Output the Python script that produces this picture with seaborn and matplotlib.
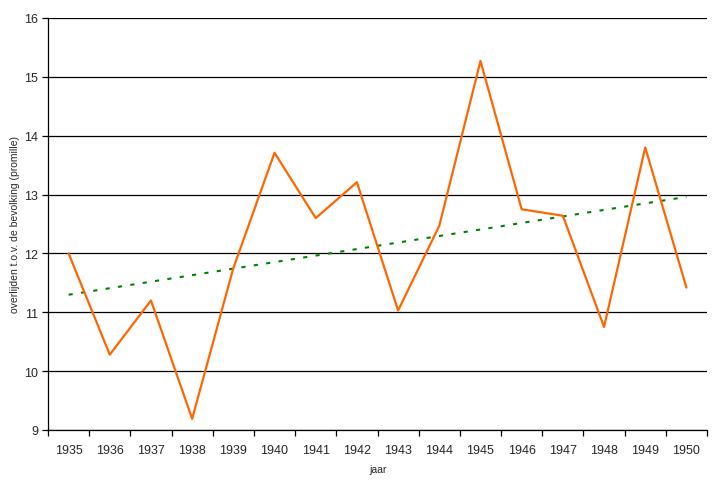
import numpy as np
import pandas as pd
import matplotlib
matplotlib.use("Agg")
import matplotlib.pyplot as plt
import seaborn as sns

years = [1935, 1936, 1937, 1938, 1939, 1940, 1941, 1942,
         1943, 1944, 1945, 1946, 1947, 1948, 1949, 1950]
deaths = [12.0, 10.28, 11.2, 9.19, 11.75, 13.71, 12.6, 13.21,
          11.03, 12.47, 15.27, 12.75, 12.64, 10.75, 13.8, 11.42]
y_ticks = [9, 10, 11, 12, 13, 14, 15, 16]

df = pd.DataFrame({"jaar": years, "waarde": deaths})

sns.set_style("white")
plt.rcParams["font.family"] = ["Liberation Sans", "DejaVu Sans"]

fig = plt.figure(figsize=(7.12, 4.81), dpi=100)
ax = fig.add_axes([0.0674, 0.104, 0.9256, 0.8565])

# horizontal gridlines
for v in y_ticks:
    ax.axhline(v, color="black", lw=0.9, zorder=1)

# linear trend (dotted green)
sns.regplot(data=df, x="jaar", y="waarde", ax=ax, scatter=False, ci=None,
            truncate=True,
            line_kws=dict(color="#008000", lw=1.5, linestyle=(0, (2, 4)), zorder=2))

# data line
sns.lineplot(data=df, x="jaar", y="waarde", ax=ax, color="#FF6600", lw=1.6, zorder=3)

ax.set_xlim(years[0] - 0.5, years[-1] + 0.5)
ax.set_ylim(9, 16)
ax.set_yticks(y_ticks)
ax.set_yticklabels([str(v) for v in y_ticks], fontsize=9)

# category labels at centers, tick marks at boundaries
ax.set_xticks(years)
ax.set_xticklabels([str(y) for y in years], fontsize=9)
ax.set_xticks([y - 0.5 for y in years] + [years[-1] + 0.5], minor=True)
ax.tick_params(axis="x", which="major", bottom=True, length=0, pad=10)
ax.tick_params(axis="x", which="minor", bottom=True, length=4, width=0.9,
               color="black", direction="out")
ax.tick_params(axis="y", which="major", left=True, length=4, width=0.9,
               color="black", direction="out", pad=3)

for s in ["top", "right"]:
    ax.spines[s].set_visible(False)
for s in ["left", "bottom"]:
    ax.spines[s].set_color("black")
    ax.spines[s].set_linewidth(0.9)

ax.set_xlabel("jaar", fontsize=7.5, labelpad=6)
ax.set_ylabel("overlijden t.o.v. de bevolking (promille)", fontsize=7.5)
ax.yaxis.set_label_coords(-0.0425, 0.5)

fig.savefig("out.png", dpi=100)
